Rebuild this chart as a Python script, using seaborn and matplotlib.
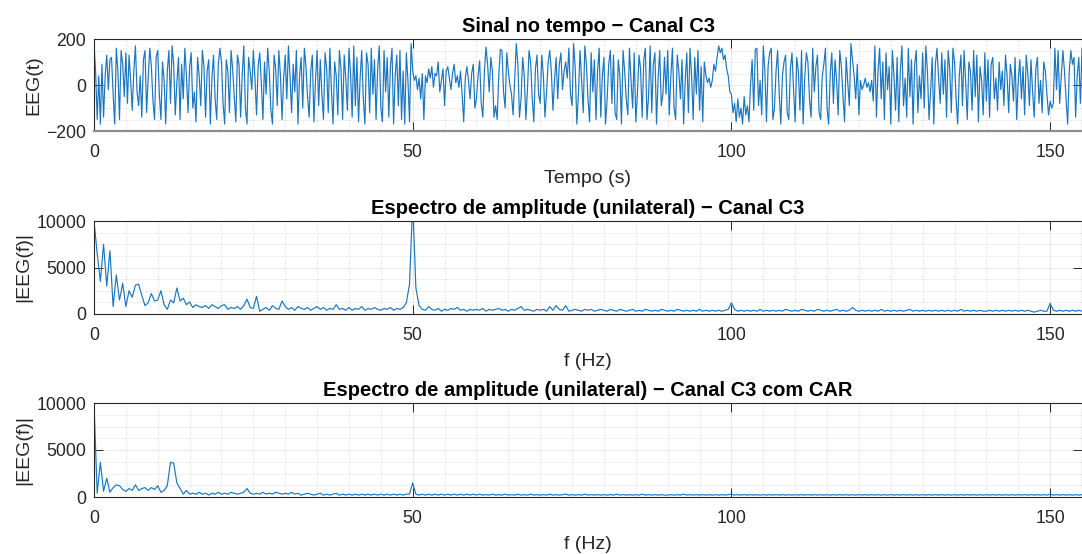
import numpy as np
import pandas as pd
import matplotlib
matplotlib.use("Agg")
import matplotlib.pyplot as plt
from matplotlib.ticker import MultipleLocator
import seaborn as sns

# ---------------------------------------------------------------------------
# Data
# ---------------------------------------------------------------------------
# EEG channel C3 in time (uV), sampled every 0.25 s from 0 to 155 s
dt = 0.25
eeg_time = [
    # 0-10 s
    175, 60, -150, 40, -170, 90, -140, 40, 130, -20, 110, 120, -40, -170, 160, 60, -150, 150, 90, -50,
    140, -80, 130, 20, -110, 60, 170, -30, -90, 40, -140, 110, 150, -120, 30, 160, 80, -70, -150, 120,
    # 10-20 s
    150, -40, -150, 100, 20, -170, 60, 150, -80, 170, 90, -130, 10, 120, -150, 90, -60, 160, 40, -120,
    80, 140, -100, -30, -160, 120, 40, -90, 150, 80, -140, 60, 110, -170, 30, 130, -60, -150, 90, 160,
    # 20-30 s
    100, -80, -170, 110, 60, -120, 150, 70, -50, -160, 130, 90, -140, 40, 170, -100, -170, 120, 60, -20,
    150, 30, -130, 80, 140, 10, -150, 100, -40, 160, 60, -110, -170, 130, 70, -90, 150, 40, -150, 30,
    # 30-40 s
    130, -60, 170, 40, -120, 90, -30, 150, -170, 40, 120, -100, 160, 80, -50, -140, 60, 130, -160, 20,
    150, -90, 110, -40, -150, 140, 70, -120, 160, -20, -170, 100, 40, -130, 150, 70, -150, 130, 30, -110,
    # 40-50 s
    160, 50, -140, 170, -90, 120, -160, 30, 150, -60, -170, 140, 90, -120, 160, -40, 110, -150, 70, 170,
    -100, -160, 150, -30, 120, -140, 80, 160, -170, 40, 130, -90, 150, -150, 60, -170, 140, 20, -160, 180,
    # 50-60 s
    60, 20, 40, -20, 30, -60, 50, -150, 40, 10, 70, 30, 80, -10, 50, 40, 100, -30, 20, 70,
    -90, 60, 80, 30, -20, 50, 90, 10, 40, -10, 60, -40, -160, 30, 80, 20, -60, 50, 90, -100,
    # 60-70 s
    -60, 40, 105, -80, -140, 60, 165, 90, -30, 120, 60, -140, -90, -150, 40, 155, 150, -30, -100, 140,
    60, 0, -40, -130, 30, 180, 90, -140, -60, 120, 40, -150, -20, 150, 100, -60, -160, 70, 130, -40,
    # 70-80 s
    -80, 130, 40, -140, -30, 100, 150, 60, -110, 20, 120, -60, 90, 140, -20, 60, 100, 30, 160, -40,
    -90, 180, 70, -170, -40, 150, 20, -120, 170, 90, -60, -160, 140, -30, 110, -150, 60, 160, -140, 40,
    # 80-90 s
    120, -170, -60, 90, 150, -80, 130, -120, -150, 110, 40, -170, 150, 60, -60, -130, 160, 20, -100, 140,
    -160, -40, 130, 70, -140, 110, 160, -150, -50, 170, -120, 90, 140, -170, 30, 150, -90, -40, 120, -40,
    # 90-100 s
    150, -130, 40, 160, -100, -150, 130, 60, -60, 110, -170, 20, 140, -120, 160, 40, -150, 120, -40, 150,
    -110, 80, -160, 100, 40, 10, 30, -10, 20, 90, 60, 120, 170, 140, 160, 110, 130, 70, 40, -30,
    # 100-110 s
    -40, -120, -80, -160, -60, -140, -100, -170, -50, -130, -90, -160, 0, 110, -110, 155, 160, -90, 20, -130,
    170, 60, -160, 80, 140, 160, -150, -100, 60, 150, -40, -170, 40, 100, 130, -120, -150, 70, 140, -20,
    # 110-120 s
    -160, 120, 60, -110, 150, -170, 30, 140, 100, -60, -140, 160, -30, 80, 130, -120, -150, 40, 90, 160,
    -100, -170, 50, 140, -80, 110, 20, -130, 150, 80, -50, -160, 120, 10, -90, 180, 110, 40, -60, 90,
    # 120-130 s
    -130, 20, -20, 0, 30, -10, 10, -30, 20, -70, 170, -140, 60, 160, -60, 100, -150, 140, -20, 80,
    -170, 150, 40, -110, 120, -160, 60, 170, -90, 30, -140, 160, -50, 110, -170, 90, 150, -120, 40, -60,
    # 130-140 s
    140, -100, 170, 60, -150, -30, 120, -170, 90, 160, 30, -80, 140, -40, 110, -140, 150, 70, -120, 160,
    100, -60, -170, 40, 130, -90, 150, 10, -150, 100, 60, -110, 150, -50, 130, -160, 80, 20, -130, 140,
    # 140-150 s
    -70, 110, -140, 90, 120, -60, 30, -110, 100, -20, 60, -90, 130, 40, -120, 90, 40, -70, 120, -150,
    20, 110, -60, 80, -130, 130, 50, -90, 110, -30, -140, 70, 120, -80, 20, -120, 100, 60, -40, -130,
    # 150-155 s
    -70, -100, -80, 160, -20, 150, -80, 40, 150, 60, -60, -170, 60, 150, 90, 120, -140, 40, 120, -80, 160,
]

# One-sided amplitude spectra, 0.5 Hz bins from 0 to 155 Hz
df_hz = 0.5
spec_raw = [
    # 0-10 Hz
    10000, 6500, 3500, 7500, 3000, 6800, 800, 4200, 1500, 3300, 800, 2500, 1800, 3100, 3200, 2000, 900, 1200, 2200, 1400,
    # 10-20 Hz
    1500, 2500, 1000, 500, 1500, 1200, 2800, 1400, 1700, 1000, 1300, 700, 1000, 800, 700, 900, 600, 1000, 800, 600,
    # 20-30 Hz
    900, 1000, 500, 700, 600, 800, 500, 900, 1600, 700, 600, 1900, 300, 500, 700, 400, 900, 600, 500, 1400,
    # 30-40 Hz
    800, 500, 700, 400, 800, 600, 500, 700, 400, 600, 800, 500, 700, 400, 600, 500, 1000, 500, 600, 400,
    # 40-50 Hz
    700, 400, 600, 500, 800, 400, 600, 500, 700, 500, 400, 600, 500, 700, 400, 600, 500, 700, 1200, 3200,
    # 50-60 Hz
    12000, 2800, 900, 500, 400, 800, 500, 400, 600, 300, 500, 400, 600, 500, 700, 400, 500, 300, 500, 400,
    # 60-70 Hz
    500, 400, 600, 300, 500, 400, 500, 600, 400, 500, 300, 500, 400, 600, 800, 400, 500, 400, 300, 500,
    # 70-80 Hz
    400, 500, 300, 800, 400, 900, 500, 400, 900, 300, 400, 500, 400, 300, 500, 400, 500, 300, 400, 500,
    # 80-90 Hz
    400, 300, 500, 400, 300, 500, 400, 300, 400, 500, 300, 400, 300, 500, 400, 300, 400, 300, 500, 400,
    # 90-100 Hz
    300, 400, 300, 500, 400, 300, 400, 300, 400, 300, 500, 300, 400, 300, 400, 300, 400, 300, 400, 500,
    # 100-110 Hz
    1200, 500, 300, 400, 300, 400, 300, 400, 300, 500, 300, 400, 300, 400, 300, 400, 300, 500, 400, 300,
    # 110-120 Hz
    400, 300, 500, 400, 300, 400, 300, 500, 400, 300, 400, 300, 400, 500, 300, 400, 300, 400, 700, 400,
    # 120-130 Hz
    300, 400, 300, 400, 300, 400, 300, 500, 300, 400, 300, 400, 300, 400, 300, 400, 500, 300, 400, 300,
    # 130-140 Hz
    400, 300, 400, 300, 400, 300, 400, 300, 400, 300, 400, 300, 500, 300, 400, 300, 400, 300, 400, 300,
    # 140-150 Hz
    300, 400, 300, 400, 300, 400, 300, 400, 300, 400, 300, 400, 300, 400, 300, 200, 300, 400, 300, 300,
    # 150-155 Hz
    1150, 400, 300, 400, 300, 400, 300, 400, 300, 400, 300,
]

spec_car = [
    # 0-10 Hz
    10000, 400, 3700, 600, 2000, 500, 1000, 1300, 1200, 800, 600, 900, 700, 1300, 700, 900, 1000, 700, 1000, 800,
    # 10-20 Hz
    1200, 500, 700, 1200, 3700, 3600, 1500, 900, 300, 700, 300, 400, 300, 500, 300, 400, 200, 400, 300, 500,
    # 20-30 Hz
    300, 400, 300, 500, 400, 300, 400, 500, 900, 400, 300, 400, 300, 500, 300, 400, 300, 500, 400, 300,
    # 30-40 Hz
    400, 300, 500, 300, 400, 200, 300, 400, 300, 200, 300, 400, 200, 300, 200, 300, 400, 200, 300, 200,
    # 40-50 Hz
    300, 200, 300, 200, 300, 200, 300, 200, 300, 200, 300, 200, 300, 200, 300, 200, 300, 200, 300, 300,
    # 50-60 Hz
    1500, 300, 200, 300, 200, 300, 200, 300, 200, 300, 200, 300, 200, 300, 200, 300, 200, 300, 200, 300,
    # 60-70 Hz
    200, 300, 200, 250, 200, 300, 200, 250, 200, 300, 200, 250, 200, 300, 200, 250, 200, 300, 200, 250,
    # 70-80 Hz
    200, 250, 200, 300, 200, 250, 200, 250, 300, 200, 250, 200, 250, 200, 300, 200, 250, 200, 250, 200,
    # 80-90 Hz
    250, 200, 250, 200, 300, 200, 250, 200, 250, 200, 250, 200, 300, 200, 250, 200, 250, 200, 250, 200,
    # 90-100 Hz
    200, 250, 200, 250, 200, 300, 200, 250, 200, 250, 200, 250, 200, 250, 200, 250, 200, 250, 200, 250,
    # 100-110 Hz
    300, 200, 250, 200, 250, 200, 250, 200, 250, 200, 250, 200, 250, 200, 250, 200, 250, 200, 250, 200,
    # 110-120 Hz
    250, 200, 250, 200, 250, 200, 250, 200, 250, 200, 250, 200, 250, 200, 250, 200, 250, 200, 250, 200,
    # 120-130 Hz
    250, 200, 250, 200, 250, 200, 250, 200, 250, 200, 250, 200, 250, 200, 250, 200, 250, 200, 250, 200,
    # 130-140 Hz
    250, 200, 250, 200, 250, 200, 250, 200, 250, 200, 250, 200, 250, 200, 250, 200, 250, 200, 250, 200,
    # 140-150 Hz
    250, 200, 250, 200, 250, 200, 250, 200, 250, 200, 250, 200, 250, 200, 250, 200, 250, 200, 250, 200,
    # 150-155 Hz
    300, 200, 250, 200, 250, 200, 250, 200, 250, 200, 250,
]

titles = [
    "Sinal no tempo \u2212 Canal C3",
    "Espectro de amplitude (unilateral) \u2212 Canal C3",
    "Espectro de amplitude (unilateral) \u2212 Canal C3 com CAR",
]
xlabels = ["Tempo (s)", "f (Hz)", "f (Hz)"]
ylabels = ["EEG(t)", "|EEG(f)|", "|EEG(f)|"]
xticks = [0, 50, 100, 150]
yticks_time = [-200, 0, 200]
yticks_spec = [0, 5000, 10000]

# ---------------------------------------------------------------------------
# Figure
# ---------------------------------------------------------------------------
sns.set_theme(style="white")
plt.rcParams["font.family"] = ["Liberation Sans", "DejaVu Sans"]
plt.rcParams["axes.unicode_minus"] = True

LINE = "#1a76c0"
INK = "#262626"

fig = plt.figure(figsize=(10.82, 5.54), dpi=100)
W, H = 1082, 554

def box(left, top, right, bottom):
    return [left / W, (H - bottom) / H, (right - left) / W, (bottom - top) / H]

axes = [
    fig.add_axes(box(94, 39, 1082, 131)),
    fig.add_axes(box(94, 221, 1082, 314)),
    fig.add_axes(box(94, 403, 1082, 497)),
]

t = np.arange(len(eeg_time)) * dt
f_raw = np.arange(len(spec_raw)) * df_hz
f_car = np.arange(len(spec_car)) * df_hz

frames = [
    pd.DataFrame({"x": t, "y": eeg_time}),
    pd.DataFrame({"x": f_raw, "y": spec_raw}),
    pd.DataFrame({"x": f_car, "y": spec_car}),
]
ylims = [(-200, 200), (0, 10000), (0, 10000)]
yticks = [yticks_time, yticks_spec, yticks_spec]
yminor = [50, 1250, 1250]

for i, ax in enumerate(axes):
    sns.lineplot(data=frames[i], x="x", y="y", ax=ax, color=LINE,
                 linewidth=0.85, estimator=None, sort=False)
    ax.set_xlim(0, 155)
    ax.set_ylim(*ylims[i])
    ax.set_xticks(xticks)
    ax.set_yticks(yticks[i])
    ax.xaxis.set_minor_locator(MultipleLocator(5))
    ax.yaxis.set_minor_locator(MultipleLocator(yminor[i]))
    ax.grid(True, which="major", color="#e4e4e4", linewidth=0.6, linestyle="-")
    ax.grid(True, which="minor", color="#d2d2d2", linewidth=0.6, linestyle=(0, (1.2, 2.0)))
    ax.set_axisbelow(True)
    ax.tick_params(which="major", direction="in", length=6.5, width=0.7,
                   color=INK, labelcolor=INK, labelsize=12.7,
                   top=True, right=True, bottom=True, left=True)
    ax.tick_params(axis="x", which="major", pad=9.5)
    ax.tick_params(axis="y", which="major", pad=5.5)
    ax.tick_params(which="minor", length=0)
    for side in ["top", "bottom", "left", "right"]:
        ax.spines[side].set_color(INK)
        ax.spines[side].set_linewidth(0.8)
        ax.spines[side].set_visible(True)
    ax.set_title(titles[i], fontsize=14.5, fontweight="bold", color="black", pad=5)
    ax.set_xlabel(xlabels[i], fontsize=14, color=INK, labelpad=6)
    ax.set_ylabel(ylabels[i], fontsize=14, color=INK, labelpad=3)
    ax.set_facecolor("white")

axes[0].spines["bottom"].set_color("#8c8c8c")
axes[0].spines["bottom"].set_linewidth(1.6)

fig.savefig("out.png", dpi=100, facecolor="white")
